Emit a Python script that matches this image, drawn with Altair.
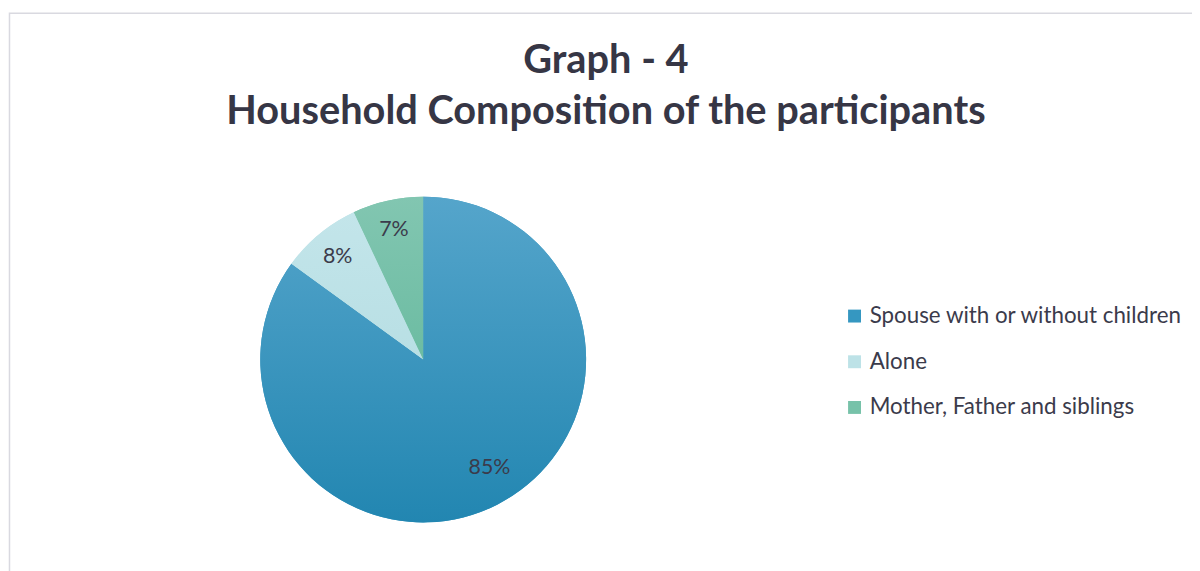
import altair as alt
import pandas as pd

# ---- data ----
categories = ["Spouse with or without children", "Alone", "Mother, Father and siblings"]
values = [85, 8, 7]
labels = ["85%", "8%", "7%"]
title_lines = ["Graph - 4", "Household Composition of the participants"]

solid_colors = ["#3597c1", "#bde2e7", "#77c2a9"]
grad_stops = {
    "Spouse with or without children": ("#55a5cb", "#2286b1"),
    "Alone": ("#c3e5ea", "#b8dfe4"),
    "Mother, Father and siblings": ("#82c6b1", "#6cbca2"),
}

df = pd.DataFrame({"category": categories, "value": values, "label": labels,
                   "order": list(range(len(categories)))})

W, H = 1192, 563
CX, CY, R = 418, 352, 164
FONT = "Lato"
TXT = "#3b3b4b"

base = alt.Chart(df).transform_joinaggregate(
    total="sum(value)"
).transform_window(
    cum="sum(value)", sort=[alt.SortField("order")]
).transform_calculate(
    start="2*PI*(datum.cum - datum.value)/datum.total",
    end="2*PI*datum.cum/datum.total",
    mid="2*PI*(datum.cum - datum.value/2)/datum.total",
)

pie = base.mark_arc(stroke=None).encode(
    x=alt.value(CX), y=alt.value(CY),
    theta=alt.Theta("start:Q", scale=None),
    theta2="end:Q",
    radius=alt.value(R),
    color=alt.Color(
        "category:N",
        scale=alt.Scale(domain=categories, range=solid_colors),
        sort=categories,
        legend=alt.Legend(
            title=None, orient="none", legendX=841, legendY=297,
            symbolType="square", symbolSize=169, symbolStrokeWidth=0,
            labelFont=FONT, labelFontSize=22.5, labelColor=TXT,
            rowPadding=23, labelOffset=4, labelLimit=400,
        ),
    ),
)

layers = [pie]
for cat in categories:
    top, bot = grad_stops[cat]
    grad = {"gradient": "linear", "x1": 0, "y1": 0, "x2": 0, "y2": 1,
            "stops": [{"offset": 0, "color": top}, {"offset": 1, "color": bot}]}
    layers.append(
        base.transform_filter(alt.datum.category == cat).mark_arc(stroke=None).encode(
            x=alt.value(CX), y=alt.value(CY),
            theta=alt.Theta("mid:Q", scale=None) if False else alt.Theta("start:Q", scale=None),
            theta2="end:Q",
            radius=alt.value(R),
            fill=alt.value(grad),
        )
    )

text_big = base.transform_filter(alt.datum.value > 50).mark_text(
    font=FONT, fontSize=21.5, color=TXT, dx=10, dy=-2).encode(
    x=alt.value(CX), y=alt.value(CY),
    theta=alt.Theta("mid:Q", scale=None),
    radius=alt.value(125),
    text="label:N",
)
text_small = base.transform_filter(alt.datum.value <= 50).mark_text(
    font=FONT, fontSize=21.5, color=TXT, dy=1).encode(
    x=alt.value(CX), y=alt.value(CY),
    theta=alt.Theta("mid:Q", scale=None),
    radius=alt.value(135),
    text="label:N",
)
layers += [text_big, text_small]

one = alt.Data(values=[{}])
t1 = alt.Chart(one).mark_text(font=FONT, fontSize=40, fontWeight="bold", color="#363645").encode(
    x=alt.value(602), y=alt.value(52), text=alt.value(title_lines[0]))
t2 = alt.Chart(one).mark_text(font=FONT, fontSize=40, fontWeight="bold", color="#363645").encode(
    x=alt.value(602), y=alt.value(103), text=alt.value(title_lines[1]))
frame = alt.Chart(one).mark_rect(fill=None, stroke="#d9d9e0", strokeWidth=1.5).encode(
    x=alt.value(1.5), x2=alt.value(W + 20), y=alt.value(3.5), y2=alt.value(H + 20))

chart = alt.layer(frame, *layers, t1, t2).properties(
    width=W, height=H, padding=0, autosize=alt.AutoSizeParams(type="none"),
    background="white",
).configure_view(stroke=None)

chart.save("out.html", embed_options={"renderer": "svg", "actions": False})
